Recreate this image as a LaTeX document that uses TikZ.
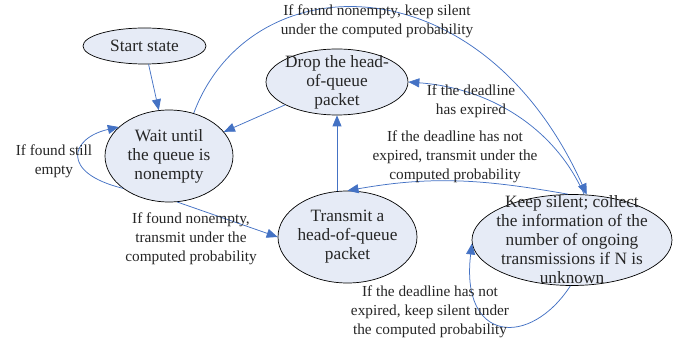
\documentclass[tikz,border=0pt]{standalone}
\usepackage{fontspec}
\setmainfont{Liberation Serif}
\usetikzlibrary{shapes.geometric,arrows.meta}

\definecolor{statefill}{RGB}{230,235,246}
\definecolor{linkblue}{RGB}{68,114,196}

\begin{document}
\begin{tikzpicture}[x=1pt,y=1pt,
    state/.style={ellipse, draw=black, fill=statefill, line width=0.7pt, inner sep=0pt},
    statetext/.style={align=center, font=\fontsize{17.3}{19}\selectfont, text=black!85},
    cond/.style={align=center, font=\fontsize{15.3}{19}\selectfont, text=black!85},
    link/.style={draw=linkblue, line width=0.75pt, -{Triangle[length=11pt,width=9pt]}}
]
    \useasboundingbox (0,0) rectangle (689,343);

    % States
    \node[state, minimum width=123pt, minimum height=36pt] (start) at (144.5,297) {};
    \node[state, minimum width=128pt, minimum height=92pt] (wait) at (169,187) {};
    \node[state, minimum width=142pt, minimum height=66pt] (drop) at (337,261) {};
    \node[state, minimum width=139pt, minimum height=92pt] (trans) at (347.5,106) {};
    \node[state, minimum width=200pt, minimum height=91pt] (keep) at (572,103) {};

    % Transitions
    \draw[link] (start) -- (wait);
    \draw[link] (drop) -- (wait);
    \draw[link] (drop.south |- trans.north) -- (drop.south);
    \draw[link] (wait.280) -- (trans.west);
    \draw[link] (wait.215) .. controls (60,170) and (70,205) .. (wait.150);
    \draw[link] (wait.60) .. controls (250,380) and (480,385) .. (keep.72);
    \draw[link] (keep.75) .. controls (555,215) and (490,255) .. (drop.east);
    \draw[link] (keep.95) to[out=170, in=10] (trans.north);
    \draw[link] (keep.268) .. controls (530,-5) and (460,0) .. (keep.182);

    % State texts
    \node[statetext] (starttext) at (start) {Start state};
    \node[statetext] (waittext) at (wait) {Wait until\\the queue is\\nonempty};
    \node[statetext] (droptext) at (drop) {Drop the head-\\of-queue\\packet};
    \node[statetext] (transtext) at (trans) {Transmit a\\head-of-queue\\packet};
    \node[statetext] (keeptext) at (keep) {Keep silent; collect\\the information of the\\number of ongoing\\transmissions if N is\\unknown};

    % Conditions
    \node[cond] (stillempty) at (54,182) {If found still\\empty};
    \node[cond] (foundsend) at (191,104) {If found nonempty,\\transmit under the\\computed probability};
    \node[cond] (foundsilent) at (377,322) {If found nonempty, keep silent\\under the computed probability};
    \node[cond] (expired) at (471,242) {If the deadline\\has expired};
    \node[cond] (notexpsend) at (455,186) {If the deadline has not\\expired, transmit under the\\computed probability};
    \node[cond] (notexpsilent) at (430,31) {If the deadline has not\\expired, keep silent under\\the computed probability};
\end{tikzpicture}
\end{document}
